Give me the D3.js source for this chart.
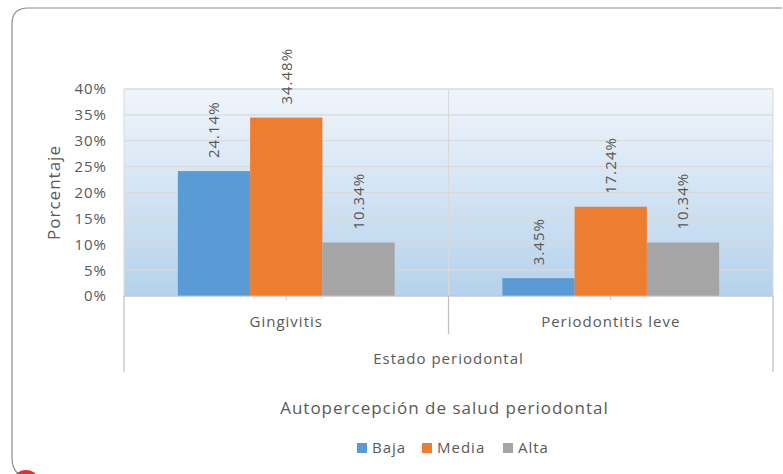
<!DOCTYPE html>
<html><head><meta charset="utf-8">
<script src="https://cdn.jsdelivr.net/npm/d3@7"></script>
<style>body{margin:0;background:#fff}svg{display:block}text{font-family:"Open Sans",sans-serif;fill:#595959;letter-spacing:1px}</style>
</head><body><svg id="c" width="783" height="474"></svg>
<script>
const categories = ["Gingivitis", "Periodontitis leve"];
const seriesNames = ["Baja", "Media", "Alta"];
const baja = [24.14, 3.45];
const media = [34.48, 17.24];
const alta = [10.34, 10.34];
const yTicks = [0, 5, 10, 15, 20, 25, 30, 35, 40];
const colors = ["#5b9bd5", "#ed7d31", "#a5a5a5"];
const seriesVals = [baja, media, alta];

const svg = d3.select("#c");
const L = 124, R = 773, T = 89, B = 296;

// outer frame
svg.append("path").attr("d", "M18,474 Q12,468 12,458 L12,24 Q12,8 28,8 L782,8").attr("fill","none").attr("stroke","#8c8c8c").attr("stroke-width",1.2);
svg.append("ellipse").attr("cx",26).attr("cy",478).attr("rx",11).attr("ry",8).attr("fill","#ee2a2e");

const defs = svg.append("defs");
const g = defs.append("linearGradient").attr("id","bg").attr("x1",0).attr("y1",0).attr("x2",0).attr("y2",1);
g.append("stop").attr("offset","0%").attr("stop-color","#f0f5fb");
g.append("stop").attr("offset","100%").attr("stop-color","#b5d2ec");

const x0 = d3.scaleBand().domain(categories).range([L, R]).paddingInner(0).paddingOuter(0);
const x1 = d3.scaleBand().domain(seriesNames).range([0, x0.bandwidth()]).paddingInner(0).paddingOuter(0.745);
const y = d3.scaleLinear().domain([0, 40]).range([B, T]);

svg.append("rect").attr("x",L).attr("y",T).attr("width",R-L).attr("height",B-T).attr("fill","url(#bg)").attr("stroke","#d9d9d9");

// gridlines
svg.append("g").selectAll("line").data(yTicks.slice(1)).join("line")
  .attr("x1",L).attr("x2",R).attr("y1",d=>y(d)).attr("y2",d=>y(d))
  .attr("stroke","#d9d9d9").attr("stroke-width",1.2);
// category divider
svg.append("line").attr("x1",x0(categories[1])).attr("x2",x0(categories[1])).attr("y1",T).attr("y2",B).attr("stroke","#d9d9d9").attr("stroke-width",1.2);

// y tick labels
svg.append("g").selectAll("text").data(yTicks).join("text")
  .attr("x",107).attr("y",d=>y(d)).attr("dy","0.36em").attr("text-anchor","end")
  .style("font-size","15px").text(d=>d+"%");

// bars
const grp = svg.append("g").selectAll("g").data(categories).join("g")
  .attr("transform",c=>`translate(${x0(c)},0)`);
grp.selectAll("rect").data((c,i)=>seriesNames.map((s,j)=>({s, v:seriesVals[j][i], j})))
  .join("rect").attr("x",d=>x1(d.s)).attr("width",x1.bandwidth())
  .attr("y",d=>y(d.v)).attr("height",d=>B-y(d.v)).attr("fill",d=>colors[d.j]);
grp.selectAll("text").data((c,i)=>seriesNames.map((s,j)=>({s, v:seriesVals[j][i], j})))
  .join("text")
  .attr("transform",d=>`translate(${x1(d.s)+x1.bandwidth()/2},${y(d.v)-13}) rotate(-90)`)
  .attr("dy","0.36em").attr("text-anchor","start").style("font-size","15px")
  .text(d=>d.v.toFixed(2)+"%");

// x axis
svg.append("line").attr("x1",L).attr("x2",R).attr("y1",B).attr("y2",B).attr("stroke","#bfbfbf").attr("stroke-width",1.2);
svg.append("line").attr("x1",L).attr("x2",L).attr("y1",B).attr("y2",372).attr("stroke","#bfbfbf").attr("stroke-width",1.2);
svg.append("line").attr("x1",R).attr("x2",R).attr("y1",B).attr("y2",372).attr("stroke","#bfbfbf").attr("stroke-width",1.2);
svg.append("line").attr("x1",x0(categories[1])).attr("x2",x0(categories[1])).attr("y1",B).attr("y2",334).attr("stroke","#bfbfbf").attr("stroke-width",1.2);
svg.append("g").selectAll("line").data(categories).join("line")
  .attr("x1",c=>x0(c)+x0.bandwidth()/2).attr("x2",c=>x0(c)+x0.bandwidth()/2)
  .attr("y1",B).attr("y2",B+4).attr("stroke","#bfbfbf");
svg.append("g").selectAll("text").data(categories).join("text")
  .attr("x",c=>x0(c)+x0.bandwidth()/2).attr("y",327).attr("text-anchor","middle")
  .style("font-size","15px").text(d=>d);
svg.append("text").attr("x",(L+R)/2).attr("y",364).attr("text-anchor","middle").style("font-size","15px").text("Estado periodontal");
svg.append("text").attr("x",(L+R)/2-4).attr("y",414).attr("text-anchor","middle").style("font-size","17px").text("Autopercepción de salud periodontal");

// y title
svg.append("text").attr("transform",`translate(60,${(T+B)/2}) rotate(-90)`).attr("text-anchor","middle").style("font-size","17px").text("Porcentaje");

// legend
const legX = [357, 422, 503];
const lg = svg.append("g").selectAll("g").data(seriesNames).join("g").attr("transform",(d,i)=>`translate(${legX[i]},443)`);
lg.append("rect").attr("width",10).attr("height",10).attr("fill",(d,i)=>colors[i]);
lg.append("text").attr("x",15).attr("y",5).attr("dy","0.36em").style("font-size","15px").text(d=>d);
</script></body></html>
